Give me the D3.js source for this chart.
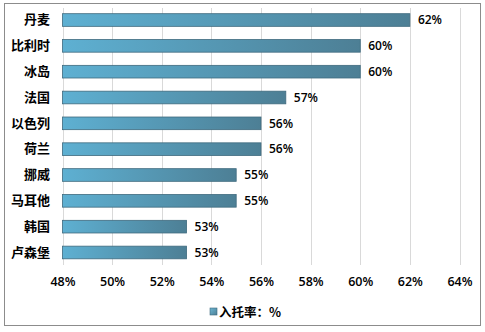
<!DOCTYPE html>
<html><head><meta charset="utf-8">
<script src="https://cdn.jsdelivr.net/npm/d3@7"></script>
<style>body{margin:0;background:#fff}svg{display:block}</style>
</head><body>
<script>
const categories = ["丹麦","比利时","冰岛","法国","以色列","荷兰","挪威","马耳他","韩国","卢森堡"];
const values = [62,60,60,57,56,56,55,55,53,53];
const xTicks = [48,50,52,54,56,58,60,62,64];
const legendLabel = "入托率：%";

const W = 485, H = 332;
const svg = d3.select("body").append("svg").attr("width", W).attr("height", H);
const defs = svg.append("defs");
const g = defs.append("linearGradient").attr("id","barGrad").attr("x1","0").attr("x2","1").attr("y1","0").attr("y2","0");
g.append("stop").attr("offset","0%").attr("stop-color","#5eb0d2");
g.append("stop").attr("offset","100%").attr("stop-color","#4d7f95");
const lg = defs.append("linearGradient").attr("id","legGrad").attr("x1","0").attr("x2","1").attr("y1","0").attr("y2","1");
lg.append("stop").attr("offset","0%").attr("stop-color","#6cb6d4");
lg.append("stop").attr("offset","100%").attr("stop-color","#4d7f95");

// outer border
svg.append("rect").attr("x",4.5).attr("y",3.5).attr("width",476).attr("height",322)
  .attr("fill","#fff").attr("stroke","#8c8c8c").attr("stroke-width",1);

const x = d3.scaleLinear().domain([48,64]).range([62.5, 459.5]);
const y = d3.scaleBand().domain(categories).range([7.1, 265.4]).paddingInner(0.51).paddingOuter(0.255);

// gridlines
svg.append("g").selectAll("line").data(xTicks).join("line")
  .attr("x1", d=>Math.round(x(d))+0.5).attr("x2", d=>Math.round(x(d))+0.5)
  .attr("y1", 8).attr("y2", 265)
  .attr("stroke", "#d9d9d9").attr("stroke-width", 1);

// x axis labels
const xAxis = d3.axisBottom(x).tickValues(xTicks).tickFormat(d=>d+"%").tickSize(0).tickPadding(0);
const xa = svg.append("g").attr("transform","translate(0,277)").call(xAxis);
xa.select(".domain").remove();
xa.selectAll("text").attr("font-family","'Open Sans','DejaVu Sans',sans-serif").attr("font-size",12.5).attr("font-weight",600).attr("fill","#000");

// y axis labels
const yAxis = d3.axisLeft(y).tickSize(0).tickPadding(0);
const ya = svg.append("g").attr("transform","translate(50,0)").call(yAxis);
ya.select(".domain").remove();
ya.selectAll("text").attr("font-family","'Noto Sans CJK SC',sans-serif").attr("font-size",13).attr("font-weight","bold").attr("fill","#000");

// bars
svg.append("g").selectAll("rect").data(categories).join("rect")
  .attr("x", x(48)).attr("y", d=>y(d))
  .attr("width", (d,i)=>x(values[i])-x(48)).attr("height", y.bandwidth())
  .attr("fill","url(#barGrad)").attr("stroke","#3f6a7e").attr("stroke-width",0.8);

// value labels
svg.append("g").selectAll("text").data(categories).join("text")
  .attr("x", (d,i)=>x(values[i])+8).attr("y", d=>y(d)+y.bandwidth()/2)
  .attr("dy","0.36em")
  .attr("font-family","'Open Sans','DejaVu Sans',sans-serif").attr("font-size",12).attr("font-weight",600).attr("fill","#000")
  .text((d,i)=>values[i]+"%");

// legend
const leg = svg.append("g").attr("transform","translate(210,312)");
leg.append("rect").attr("x",0).attr("y",-4).attr("width",7).attr("height",7)
  .attr("fill","url(#legGrad)").attr("stroke","#3f6a7e").attr("stroke-width",0.6);
leg.append("text").attr("x",9).attr("y",0).attr("dy","0.36em")
  .attr("font-family","'Noto Sans CJK SC',sans-serif").attr("font-size",12.5).attr("font-weight","bold").attr("fill","#000")
  .text(legendLabel);
</script>
</body></html>
